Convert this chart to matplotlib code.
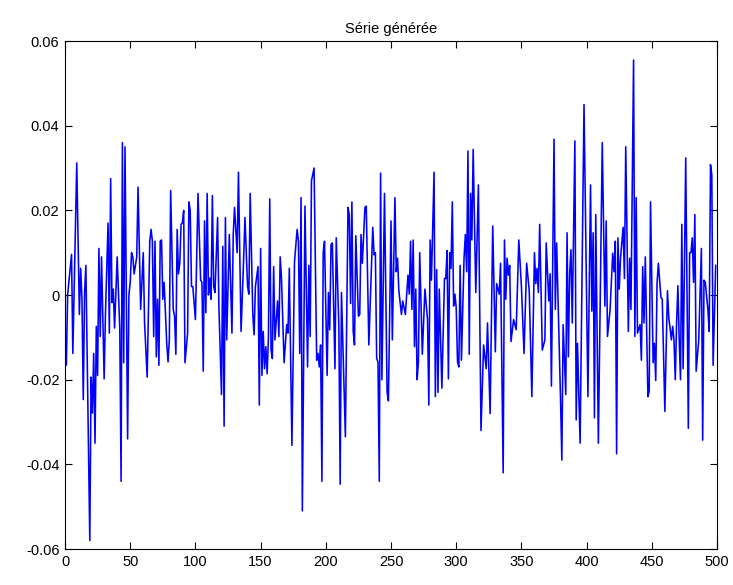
import matplotlib
matplotlib.use("Agg")
import matplotlib.pyplot as plt
import numpy as np

# sample index / value (x 1e-3)
sample = [
    0, 1, 2, 5, 6, 9, 11, 12, 13, 14, 15, 16, 19, 20, 21, 22, 23, 24, 25, 26,
    27, 28, 30, 31, 33, 34, 35, 36, 37, 38, 40, 42, 43, 44, 45, 46, 48, 49, 50, 51,
    52, 53, 55, 56, 58, 60, 61, 63, 65, 66, 67, 68, 69, 70, 71, 72, 73, 74, 75, 76,
    78, 79, 80, 81, 83, 84, 85, 86, 87, 88, 89, 90, 91, 92, 94, 95, 96, 97, 98, 100,
    102, 104, 105, 106, 107, 108, 109, 110, 111, 112, 113, 114, 115, 117, 118, 120, 121, 122, 123, 124,
    126, 128, 129, 130, 132, 133, 135, 137, 138, 140, 141, 142, 144, 145, 146, 148, 149, 150, 151, 152,
    153, 154, 155, 156, 157, 158, 159, 160, 161, 163, 164, 165, 166, 168, 170, 171, 172, 174, 176, 178,
    179, 180, 181, 182, 184, 186, 187, 188, 189, 191, 193, 194, 195, 196, 197, 198, 199, 201, 202, 203,
    204, 205, 207, 208, 210, 211, 212, 215, 217, 218, 219, 220, 221, 222, 223, 225, 226, 227, 228, 230,
    231, 233, 236, 237, 238, 239, 240, 241, 242, 243, 245, 247, 248, 250, 251, 253, 254, 255, 256, 258,
    259, 261, 263, 264, 265, 266, 267, 268, 269, 270, 271, 272, 274, 276, 278, 279, 280, 281, 283, 284,
    285, 286, 287, 289, 291, 292, 293, 294, 295, 296, 297, 298, 299, 300, 301, 302, 303, 304, 306, 307,
    308, 309, 310, 311, 312, 313, 315, 317, 319, 321, 323, 324, 326, 328, 330, 331, 333, 334, 336, 337,
    338, 339, 340, 341, 342, 344, 346, 348, 350, 352, 354, 356, 358, 360, 361, 362, 363, 364, 366, 368,
    369, 371, 372, 373, 375, 376, 377, 379, 380, 381, 382, 384, 385, 386, 387, 388, 389, 391, 392, 393,
    395, 398, 401, 403, 404, 405, 406, 407, 409, 412, 414, 415, 416, 418, 420, 421, 422, 423, 424, 425,
    426, 428, 429, 430, 432, 433, 434, 436, 437, 438, 439, 441, 442, 443, 444, 445, 447, 448, 449, 451,
    452, 453, 454, 455, 457, 458, 460, 461, 462, 463, 464, 465, 466, 467, 468, 469, 470, 471, 472, 473,
    474, 475, 476, 478, 479, 480, 481, 482, 483, 484, 486, 488, 489, 490, 491, 493, 494, 495, 496, 497,
    499,
]
value_e3 = [
    -8, -16.6, 0, 9.6, -13.8, 31.2, -4.6, 6.3, -1, -24.7, 0.6, 7, -58, -19.4, -27.9, -13.8, -35, -7.4, -19, 11,
    -9.8, 9, -19.8, -4.6, 17, -9, 27.5, -1.8, 1.4, -7.8, 9, -8, -44, 36, -16, 35, -34, 0, 3, 10,
    9, 5, 9, 25.5, -3.4, 10, -6.6, -19.4, 12.7, 15.5, 12.7, -9.8, 12.7, -14.6, -1, -16.6, 12.7, 13, -1, 3,
    -11.4, -15.8, -10.6, 24.7, -3.4, -5, -14, 15.5, 5, 7.5, 16.7, 17, 20, -16, -9, 22, 20, 2, 2, -5.8,
    24, 3.5, 3, -18, 17.5, -4.2, 24, 0, 4, -1, 23.5, 2, 0.6, 18.3, -2.6, -23.5, 11.5, -31, 18.3, -10.6,
    14.3, -9, 14.3, 20.7, 10, 29, -8.6, 8.7, 18.3, 2, 0.2, 24, -4.6, -9.4, 2, 6.7, -26, 11, -19, -8.6,
    -17.4, -12.2, -18.6, -9.8, 22.7, -13, -15, 6.7, -10.6, -1.4, -9.8, 9, 3.9, -16, -7, -9, 6.3, -35.5, 7.9, 15.5,
    12.7, -13.8, 23, -51, 21, -17, 7, -9.8, 27, 30, -15.4, -13.8, -17, -11.8, -44, 10, 12.7, -19, 0.6, -8.2,
    11.9, 12.3, -17.4, 13.5, -7.4, -44.7, 0.6, -33.5, 20.7, 19, -2, 22, -8.6, -11.8, 14, -5, -4.6, 14.3, 7.5, 20.7,
    21, -11.8, 16, 9.5, 10, -15, -15.8, -44, 28.8, -20, 24, -23, -25, 17.5, -10.6, 23, 5.5, 8.7, 1, -4.6,
    -1.4, -4.6, 4.7, 0.2, 12.7, -3.4, 13, -12.2, 1.4, -20, -15.8, 10, -14, 1.4, -5.8, -26, 13, 3.5, 29, -24,
    6, -23, 1.4, -22, 3.9, 3.9, 10.5, -19.8, 10, 6.3, 22, -2.6, 0.2, -3, -15.8, -17, 7, -15.4, 8.7, 14.3,
    5.5, 34, -14, 24, 13, 34.4, 0.6, 26, -32, -11.8, -17.4, -6.6, -28, 16.3, -13.4, 2.7, 0.2, 7.5, -42, 13,
    -1, 8.7, 4.7, 7, -11, -5.8, -8.2, 13, 2, -13.8, 7.5, 1, -24, 10, 2.7, 6.3, 0.6, 16.7, -13, -10.6,
    12.3, -1.4, 5, -21.5, 36.8, -3.4, 12.3, -12.2, -24.7, -39, -7, -23.5, 14.7, -14.6, 5, 10.7, -6.6, 36.4, -29.5, -11.4,
    -35, 45, -24, 26, -3.8, 14.7, -29, 19, -35, 36, -2.6, 17.5, -9.8, -3.4, 9.9, 5.5, 12.7, -37.5, 13.5, 1.4,
    8.7, 16, 3.9, 35, -8.6, 8.7, -3.4, 55.5, -9.8, 23, -9, -7, -15.4, 6.7, -6.6, 9, -24, -22.7, 22, -16,
    -11.4, -20.2, 2.7, 7.5, -0.6, -1, -27.5, -12.6, 1, -5.4, -7.8, -10.6, -7.4, -10.6, -20, -6.6, 2.2, -10.6, -20, 16.7,
    -17.4, 6.3, 32.4, -31.5, 10, 10, 13.5, 3, 19, -18, -10.6, 11, -34.3, 3.5, 3, -3.4, -8.6, 30.8, 28.4, -16.6,
    7,
]

x_ticks = [0, 50, 100, 150, 200, 250, 300, 350, 400, 450, 500]
y_ticks = [-0.06, -0.04, -0.02, 0, 0.02, 0.04, 0.06]
y_labels = ["-0.06", "-0.04", "-0.02", "0", "0.02", "0.04", "0.06"]

plt.rcParams['font.family'] = ['Liberation Sans', 'DejaVu Sans']

fig = plt.figure(figsize=(7.33, 5.85), dpi=100)
ax = fig.add_axes([0.0887, 0.0615, 0.8895, 0.8684])

ax.plot(sample, np.array(value_e3) * 1e-3, color='#0000ff', linewidth=1.15)

ax.set_xlim(0, 500)
ax.set_ylim(-0.06, 0.06)
ax.set_xticks(x_ticks)
ax.set_xticklabels([str(t) for t in x_ticks])
ax.set_yticks(y_ticks)
ax.set_yticklabels(y_labels)
ax.tick_params(direction='in', top=True, right=True, labelsize=10.5,
               length=5, width=0.8, pad=4)
for sp in ax.spines.values():
    sp.set_linewidth(0.8)

ax.set_title("Série générée", fontsize=10.5, pad=6)

fig.savefig("out.png", dpi=100)
